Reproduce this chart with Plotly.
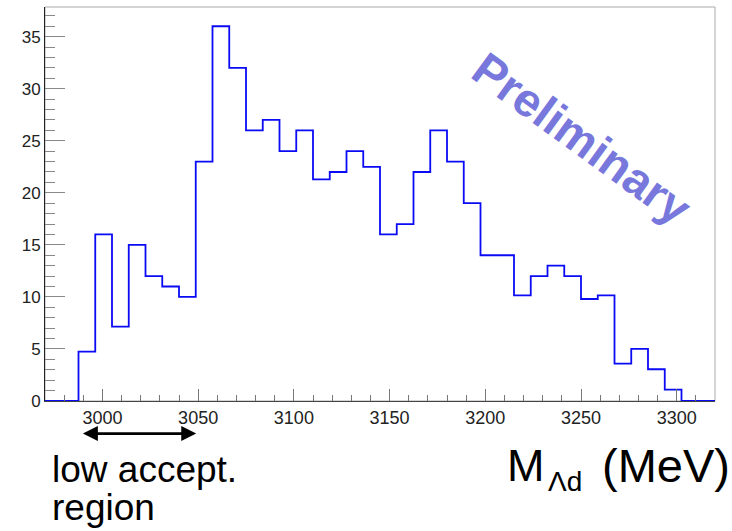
import plotly.graph_objects as go

# ---- data ----
BIN_LO = 2970.0
BIN_W = 8.75
counts = [0, 0, 4.75, 16, 7.15, 15, 12, 11, 10, 23,
          36, 32, 26, 27, 24, 26, 21.3, 22, 24, 22.5,
          16, 17, 22, 26, 23, 19, 14, 14, 10.15, 12,
          13, 12, 9.8, 10.15, 3.6, 5, 3.05, 1.1, 0, 0]
edges = [BIN_LO + BIN_W * i for i in range(len(counts) + 1)]
x_range = [2970, 3320]
y_range = [0, 37.85]
arrow_from, arrow_to = 2989, 3049

fig = go.Figure()
fig.add_trace(go.Scatter(
    x=edges, y=counts + [counts[-1]], mode="lines",
    line=dict(shape="hv", color="#0A0AF5", width=1.8),
    hoverinfo="skip", showlegend=False))

F = "Liberation Sans, Arial, sans-serif"
fig.update_xaxes(range=x_range, showgrid=False, zeroline=False,
                 showline=True, linecolor="#444", linewidth=1,
                 ticks="inside", ticklen=12, tickcolor="#777", tickwidth=1,
                 tick0=3000, dtick=50, tickfont=dict(family=F, size=18, color="#222"),
                 minor=dict(dtick=10, tick0=3000, ticks="inside", ticklen=6, tickcolor="#777"))
fig.update_yaxes(range=y_range, showgrid=False, zeroline=False,
                 showline=True, linecolor="#222", linewidth=1,
                 ticks="inside", ticklen=20, tickcolor="#888", tickwidth=1,
                 tick0=0, dtick=5, tickfont=dict(family=F, size=17, color="#222"),
                 minor=dict(dtick=1, ticks="inside", ticklen=10, tickcolor="#888"))

fig.add_shape(type="rect", xref="paper", yref="paper", x0=0, y0=0, x1=1, y1=1,
              line=dict(color="#aaa", width=1), layer="below")

ann = [
    dict(text="<b>Preliminary</b>", x=0.8018, y=0.6668, xref="paper", yref="paper",
         xanchor="center", yanchor="middle", textangle=36, showarrow=False,
         font=dict(family=F, size=47, color="#7878DC")),
    dict(text="low accept.", x=0.0078, y=-0.1734, xref="paper", yref="paper",
         xanchor="left", yanchor="middle", showarrow=False,
         font=dict(family=F, size=37, color="#000")),
    dict(text="region", x=0.0078, y=-0.2698, xref="paper", yref="paper",
         xanchor="left", yanchor="middle", showarrow=False,
         font=dict(family=F, size=37, color="#000")),
    dict(text="M", x=0.6867, y=-0.164, xref="paper", yref="paper",
         xanchor="left", yanchor="middle", showarrow=False,
         font=dict(family=F, size=45, color="#000")),
    dict(text="Λd", x=0.7485, y=-0.2043, xref="paper", yref="paper",
         xanchor="left", yanchor="middle", showarrow=False,
         font=dict(family=F, size=28, color="#000")),
    dict(text="(MeV)", x=1.0258, y=-0.164, xref="paper", yref="paper",
         xanchor="right", yanchor="middle", showarrow=False,
         font=dict(family=F, size=47, color="#000")),
    dict(text="", x=arrow_to, y=-0.0827, xref="x", yref="paper",
         ax=arrow_from, ay=0, axref="x", ayref="pixel",
         showarrow=True, arrowside="end+start", arrowhead=2, startarrowhead=2,
         arrowsize=1.07, startarrowsize=1.07, arrowwidth=2.8, arrowcolor="#000"),
]
fig.update_layout(annotations=ann, width=732, height=531,
                  margin=dict(l=45.3, r=17.3, t=6.7, b=130.3),
                  paper_bgcolor="white", plot_bgcolor="white")
fig.write_html("out.html")
